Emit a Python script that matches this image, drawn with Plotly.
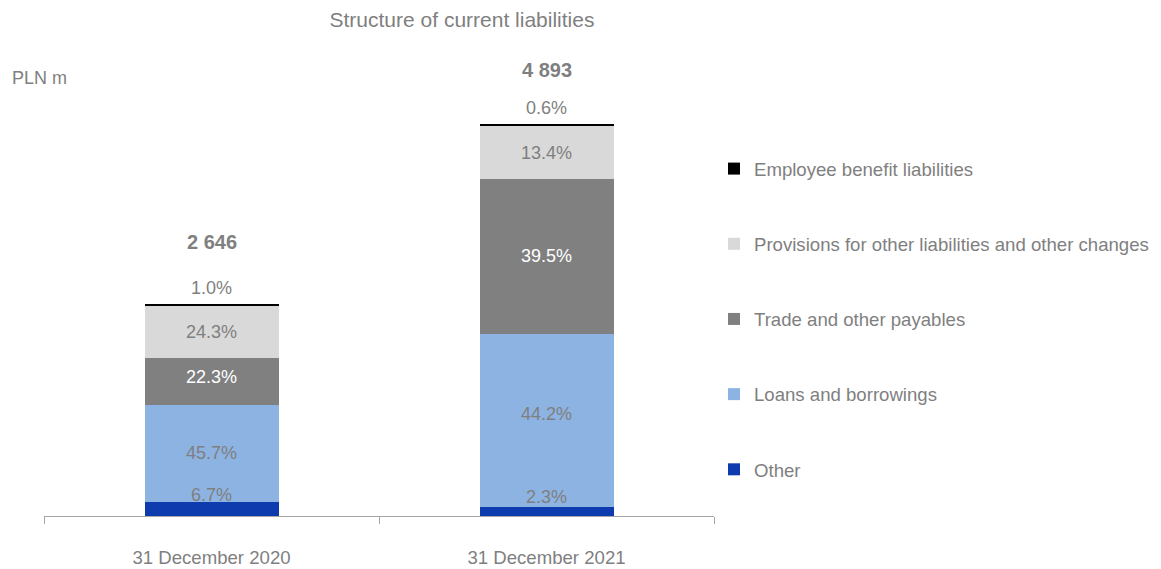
import plotly.graph_objects as go

categories = ["31 December 2020", "31 December 2021"]
totals = [2646, 4893]
series_names = ["Other", "Loans and borrowings", "Trade and other payables",
                "Provisions for other liabilities and other changes", "Employee benefit liabilities"]
share_other = [6.7, 2.3]
share_loans = [45.7, 44.2]
share_trade = [22.3, 39.5]
share_provisions = [24.3, 13.4]
share_employee = [1.0, 0.6]

shares = [share_other, share_loans, share_trade, share_provisions, share_employee]
colors = ["#0E3CAF", "#8DB3E2", "#808080", "#D9D9D9", "#000000"]
label_colors = ["#7F7F7F", "#7F7F7F", "#FFFFFF", "#7F7F7F", "#7F7F7F"]

FONT = "Liberation Sans, Arial, sans-serif"
GRAY = "#7F7F7F"

# page body has an 8px default margin; size the figure so the plot sits where intended
W, H = 1153, 561
OFF = 8

fig = go.Figure()
annotations = []
bases = [0.0, 0.0]
for i, (name, sh) in enumerate(zip(series_names, shares)):
    vals = [t * s / 100 for t, s in zip(totals, sh)]
    fig.add_trace(go.Bar(
        x=categories, y=vals, name=name, marker=dict(color=colors[i], line=dict(width=0)),
        legendgroup=name, legendrank=100 - i, hoverinfo="skip"))
    for j, cat in enumerate(categories):
        if i == 4:
            annotations.append(dict(x=cat, y=bases[j] + vals[j], text=f"{sh[j]:.1f}%",
                                    showarrow=False, yanchor="bottom", yshift=4,
                                    font=dict(color=GRAY, size=18, family=FONT)))
        else:
            ysh = 14 if i == 0 else (4 if i == 2 and j == 0 else (6 if i == 1 and j == 1 else 0))
            annotations.append(dict(x=cat, y=bases[j] + vals[j] / 2, text=f"{sh[j]:.1f}%",
                                    showarrow=False, yanchor="middle", yshift=ysh,
                                    font=dict(color=label_colors[i], size=18, family=FONT)))
        bases[j] += vals[j]

total_shift = [62, 54]
for j, cat in enumerate(categories):
    annotations.append(dict(x=cat, y=totals[j], text=f"<b>{totals[j]:,}</b>".replace(",", " "),
                            showarrow=False, yanchor="middle", yshift=total_shift[j],
                            font=dict(color=GRAY, size=20, family=FONT)))

annotations.append(dict(xref="paper", yref="paper", x=(10 - 44) / 670, y=(516 - 78) / 476,
                        text="PLN m", showarrow=False, xanchor="left", yanchor="middle",
                        font=dict(color=GRAY, size=18, family=FONT)))

fig.update_layout(
    width=W, height=H,
    margin=dict(l=44 - OFF, r=447, t=40 - OFF, b=53, autoexpand=False),
    paper_bgcolor="white", plot_bgcolor="white",
    barmode="stack", bargap=0.6,
    font=dict(family=FONT, color=GRAY, size=18),
    title=dict(text="Structure of current liabilities", x=(462 - OFF) / W, xanchor="center",
               y=1 - (20 - OFF) / H, yanchor="middle", font=dict(size=21, color=GRAY, family=FONT)),
    showlegend=True,
    legend=dict(x=1.0, xanchor="left", y=(516 - 319) / 476, yanchor="middle",
                traceorder="grouped", tracegroupgap=48,
                font=dict(size=18.6, color=GRAY, family=FONT), itemclick=False),
    annotations=annotations,
    xaxis=dict(showline=True, linecolor="#A6A6A6", linewidth=1, ticks="outside",
               tickson="boundaries", ticklen=7, tickcolor="#A6A6A6", automargin=False,
               ticklabelstandoff=25, tickfont=dict(size=18.6, color=GRAY, family=FONT),
               showgrid=False, zeroline=False, fixedrange=True),
    yaxis=dict(visible=False, range=[0, 5941], showgrid=False, zeroline=False, fixedrange=True,
               automargin=False),
)

fig.write_html("out.html")
